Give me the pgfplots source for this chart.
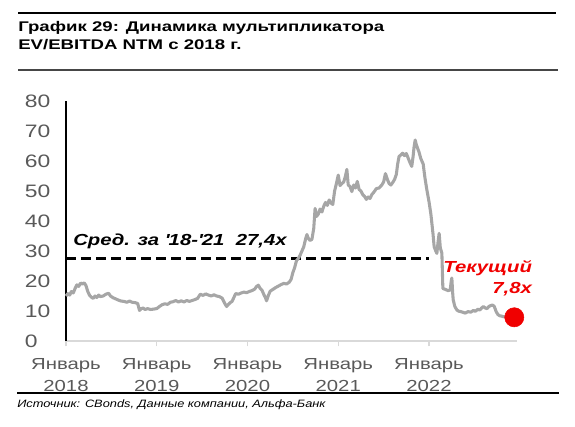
\documentclass[border=0pt]{standalone}
\usepackage{fontspec}
\setmainfont{Liberation Sans}[FakeStretch=1.27]
\newfontfamily\titlefont{Liberation Sans}[FakeStretch=1.33]
\newfontfamily\sourcefont{Liberation Sans}[FakeStretch=1.2]
\usepackage{pgfplots}
\pgfplotsset{compat=1.18}
\definecolor{linegray}{RGB}{166,166,166}
\definecolor{labelgray}{RGB}{89,89,89}
\definecolor{axisgray}{RGB}{217,217,217}
\definecolor{dotred}{RGB}{240,0,0}
\definecolor{rulegray}{RGB}{70,70,70}
\begin{document}
\begin{tikzpicture}
\path[use as bounding box] (0pt,0pt) rectangle (431.25pt,320.25pt);
% title
\draw[black, line width=1.5pt] (13.5pt,310.5pt) -- (417pt,310.5pt);
\node[anchor=base west, inner sep=0pt] at (13.5pt,296.25pt) {\titlefont\fontsize{10.5}{13.5}\selectfont\bfseries График 29: Динамика мультипликатора};
\node[anchor=base west, inner sep=0pt] at (13.5pt,282.75pt) {\titlefont\fontsize{10.5}{13.5}\selectfont\bfseries EV/EBITDA NTM с 2018 г.};
\draw[rulegray, line width=1.1pt] (13.5pt,267.75pt) -- (418.5pt,267.75pt);
% source
\draw[black, line width=1.5pt] (12.75pt,25.3pt) -- (419.25pt,25.3pt);
\node[anchor=base west, inner sep=0pt] at (12.75pt,14.5pt) {\sourcefont\fontsize{8}{10}\selectfont\itshape Источник: CBonds, Данные компании, Альфа-Банк};
\begin{axis}[
  at={(49.5pt,64.5pt)}, anchor=south west,
  scale only axis, width=338.25pt, height=180pt,
  xmin=2018, xmax=2022.97, ymin=0, ymax=80,
  clip=false,
  axis x line*=bottom, axis y line*=left,
  axis line style={-},
  x axis line style={draw=axisgray, line width=1.5pt},
  y axis line style={draw=black, line width=0.8pt},
  xtick={2018,2019,2020,2021,2022},
  xticklabels={{Январь\\2018},{Январь\\2019},{Январь\\2020},{Январь\\2021},{Январь\\2022}},
  xticklabel style={align=center, font=\fontsize{12}{16.5}\selectfont, text=labelgray, inner sep=1pt, yshift=-8pt},
  x tick style={draw=axisgray, line width=1pt},
  tick align=outside, major tick length=4pt,
  ytick={0,10,...,80},
  y tick style={draw=none},
  yticklabel style={anchor=west, xshift=-27pt, font=\fontsize{13.5}{16}\selectfont, text=labelgray, inner sep=0pt},
  /pgf/number format/assume math mode=true,
]
\addplot[black, line width=2pt, dash pattern=on 7.5pt off 3.75pt] coordinates {(2018,27.4) (2022.0,27.4)};
\addplot[linegray, line width=2.3pt, line join=round] coordinates {
(2018.00,15.0) (2018.02,15.8) (2018.04,15.3) (2018.06,16.5) (2018.08,16.0) (2018.10,17.5)
(2018.12,18.7) (2018.14,18.2) (2018.16,19.3) (2018.18,19.0) (2018.20,19.4) (2018.22,18.5)
(2018.24,16.5) (2018.26,15.2) (2018.28,14.6) (2018.30,14.2) (2018.32,15.0) (2018.34,14.5)
(2018.36,15.3) (2018.38,14.8) (2018.41,15.0) (2018.44,15.6) (2018.47,15.9) (2018.49,15.0)
(2018.52,14.4) (2018.55,14.0) (2018.58,13.6) (2018.61,13.3) (2018.64,13.2) (2018.67,12.9)
(2018.70,13.3) (2018.73,12.9) (2018.76,12.8) (2018.79,12.5) (2018.81,10.2) (2018.83,10.8)
(2018.85,11.0) (2018.87,10.5) (2018.90,10.8) (2018.93,10.5) (2018.96,10.6) (2019.00,10.8)
(2019.03,11.5) (2019.06,12.1) (2019.09,12.4) (2019.12,12.2) (2019.15,12.9) (2019.18,13.1)
(2019.21,13.5) (2019.24,13.0) (2019.27,13.4) (2019.30,13.0) (2019.33,13.5) (2019.36,13.2)
(2019.39,13.5) (2019.42,13.8) (2019.45,14.2) (2019.48,15.6) (2019.51,15.2) (2019.54,15.7)
(2019.57,15.3) (2019.60,15.0) (2019.63,15.4) (2019.66,15.0) (2019.69,14.8) (2019.72,14.3)
(2019.75,12.5) (2019.77,11.5) (2019.79,12.2) (2019.81,12.8) (2019.83,13.2) (2019.85,14.5)
(2019.87,15.8) (2019.90,15.6) (2019.93,16.0) (2019.96,16.3) (2019.99,16.1) (2020.02,16.5)
(2020.05,16.8) (2020.08,17.3) (2020.10,18.2) (2020.12,18.6) (2020.14,17.5) (2020.16,16.9)
(2020.18,15.5) (2020.20,14.3) (2020.21,13.4) (2020.23,15.2) (2020.25,16.6) (2020.28,17.2)
(2020.31,17.8) (2020.34,18.3) (2020.37,18.8) (2020.40,19.2) (2020.43,19.0) (2020.46,19.6)
(2020.48,20.5) (2020.50,22.8) (2020.52,24.5) (2020.54,26.8) (2020.56,27.5) (2020.58,28.6)
(2020.60,30.0) (2020.62,31.4) (2020.64,34.0) (2020.655,35.5) (2020.67,34.2) (2020.69,33.5)
(2020.71,33.9) (2020.73,37.5) (2020.745,44.2) (2020.76,41.5) (2020.78,42.3) (2020.80,44.0)
(2020.82,43.0) (2020.84,44.9) (2020.86,46.2) (2020.88,45.2) (2020.90,47.0) (2020.92,46.0)
(2020.94,45.5) (2020.96,50.0) (2020.98,52.5) (2021.00,55.3) (2021.02,51.8) (2021.04,52.5)
(2021.06,53.0) (2021.08,55.0) (2021.095,57.2) (2021.11,52.0) (2021.13,51.5) (2021.15,49.8)
(2021.17,52.0) (2021.19,51.0) (2021.21,53.2) (2021.23,50.5) (2021.25,50.0) (2021.27,48.8)
(2021.29,48.2) (2021.31,47.2) (2021.33,48.0) (2021.35,47.5) (2021.37,48.8) (2021.39,49.5)
(2021.42,50.8) (2021.45,51.0) (2021.48,52.0) (2021.50,53.0) (2021.52,55.8) (2021.54,54.0)
(2021.56,52.5) (2021.58,52.0) (2021.60,52.8) (2021.62,53.8) (2021.64,55.5) (2021.655,59.0)
(2021.67,61.5) (2021.69,62.0) (2021.71,62.6) (2021.73,61.8) (2021.75,62.5) (2021.77,61.0)
(2021.79,59.5) (2021.81,58.2) (2021.825,61.5) (2021.835,64.5) (2021.848,67.0) (2021.86,65.5)
(2021.875,64.2) (2021.89,63.0) (2021.91,60.8) (2021.936,59.0) (2021.955,54.5) (2021.977,50.3)
(2022.00,46.5) (2022.02,42.5) (2022.032,39.2) (2022.045,35.5) (2022.057,31.4) (2022.075,30.0)
(2022.087,29.2) (2022.10,33.0) (2022.112,35.9) (2022.125,31.0) (2022.142,29.3) (2022.153,17.5)
(2022.18,17.2) (2022.21,16.8) (2022.234,17.0) (2022.245,20.0) (2022.252,21.0) (2022.26,16.5)
(2022.267,13.7) (2022.285,11.5) (2022.308,10.3) (2022.33,9.9) (2022.35,9.8) (2022.38,9.5)
(2022.40,9.3) (2022.43,9.8) (2022.46,9.6) (2022.49,10.2) (2022.51,9.9) (2022.54,10.6)
(2022.56,10.3) (2022.58,11.0) (2022.60,11.5) (2022.62,11.0) (2022.64,10.8) (2022.66,11.5)
(2022.68,11.8) (2022.70,12.0) (2022.72,11.5) (2022.74,9.8) (2022.76,8.8) (2022.78,8.4)
(2022.80,8.3) (2022.82,8.1) (2022.86,8.0)
};
\addplot[only marks, mark=*, mark size=7.2pt, color=dotred] coordinates {(2022.94,7.9)};
\node[anchor=west, inner sep=0pt, font=\fontsize{12}{14}\selectfont\bfseries\itshape] at (axis cs:2018.077,33.1) {Сред. за \textquotesingle 18-\textquotesingle 21\ \ 27,4x};
\node[anchor=east, inner sep=0pt, align=right, text=dotred, font=\fontsize{12}{15.5}\selectfont\bfseries\itshape] at (axis cs:2023.138,21.0) {Текущий\\7,8x};
\end{axis}
\end{tikzpicture}
\end{document}
